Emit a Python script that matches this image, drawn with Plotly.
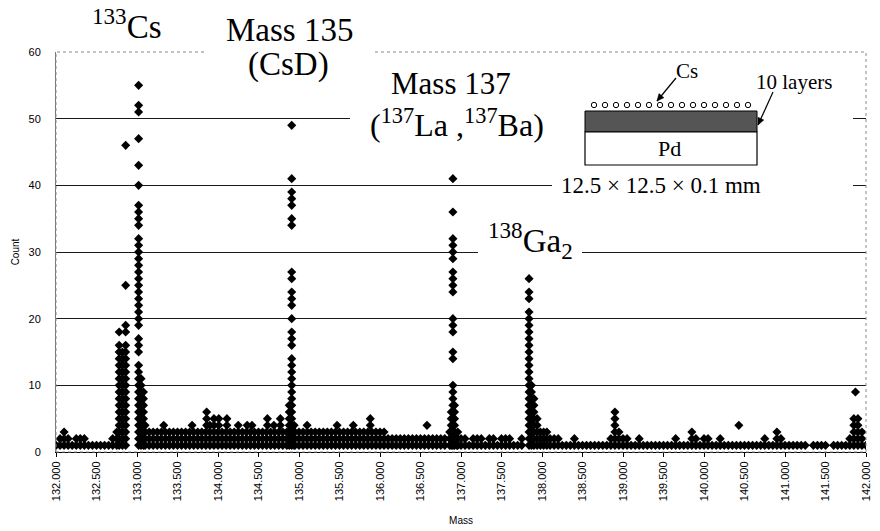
import math
import plotly.graph_objects as go

# ---------------- data ----------------
tick_vals = [132.0, 132.5, 133.0, 133.5, 134.0, 134.5, 135.0, 135.5, 136.0, 136.5,
             137.0, 137.5, 138.0, 138.5, 139.0, 139.5, 140.0, 140.5, 141.0, 141.5, 142.0]
tick_labels = ["132.000", "132.500", "133.000", "133.500", "134.000", "134.500", "135.000",
               "135.500", "136.000", "136.500", "137.000", "137.500", "138.000", "138.500",
               "139.000", "139.500", "140.000", "140.500", "141.000", "141.500", "142.000"]
count_ticks = [0, 10, 20, 30, 40, 50, 60]

# background band: highest count of the dense band in each 0.05-mass bin
band_start = 132.0
band_step = 0.05
band_132 = [1, 2, 3, 2, 1, 2, 2, 2, 1, 1, 1, 1, 1, 1, 2, 3, 0, 0, 0, 0]
band_133 = [0, 0, 4, 3, 3, 3, 3, 3, 3, 3, 3, 3, 3, 3, 3, 3, 3, 3, 3, 3]
band_134 = [3, 3, 3, 3, 3, 3, 3, 3, 3, 3, 3, 3, 3, 3, 3, 3, 3, 3, 0, 3]
band_135 = [3, 3, 3, 3, 3, 3, 3, 3, 3, 3, 3, 3, 3, 3, 3, 3, 3, 3, 3, 3]
band_136 = [3, 3, 2, 2, 2, 2, 2, 2, 2, 2, 2, 2, 2, 2, 2, 2, 2, 0, 0, 2]
band_137 = [2, 2, 1, 2, 2, 2, 1, 2, 2, 1, 2, 2, 2, 1, 1, 2, 0, 0, 0, 0]
band_138 = [0, 0, 0, 2, 2, 1, 1, 1, 2, 1, 1, 1, 1, 1, 1, 1, 1, 2, 6, 3]
band_139 = [2, 2, 1, 1, 2, 1, 1, 1, 1, 1, 1, 1, 1, 2, 1, 1, 1, 3, 2, 1]
band_140 = [2, 2, 1, 1, 2, 1, 1, 1, 1, 1, 1, 1, 1, 1, 1, 2, 1, 1, 3, 2]
band_141 = [1, 1, 1, 1, 1, 1, 0, 1, 1, 1, 1, 0, 1, 1, 1, 1, 2, 5, 5, 3]
band_142 = [1]

# isolated points above the band
extra_mass = [133.33, 133.68, 133.86, 133.86, 133.86, 133.90, 133.95, 133.95, 134.01, 134.01,
              134.11, 134.11, 134.25, 134.36, 134.42, 134.61, 134.61, 134.69, 134.77, 134.77,
              135.10, 135.47, 135.67, 135.88, 135.88, 136.58, 140.43, 141.87]
extra_count = [4, 4, 6, 5, 4, 4, 5, 4, 5, 4,
               5, 4, 4, 4, 4, 5, 4, 4, 5, 4,
               4, 4, 4, 5, 4, 4, 4, 9]

# 133Cs side peak
cs_side_mass = [132.78, 132.82, 132.86]
cs_side_counts = [
    [1, 2, 3, 4, 5, 6, 7, 8, 9, 10, 11, 12, 13, 14, 15, 16, 18],
    [1, 2, 3, 4, 5, 6, 7, 8, 9, 10, 11, 12, 13, 14, 15],
    [1, 2, 3, 4, 5, 6, 7, 8, 9, 10, 11, 12, 13, 14, 15, 16, 18, 19, 25, 46],
]
# 133Cs main peak
cs_main_mass = [133.02, 133.05, 133.08]
cs_main_counts = [
    [1, 2, 3, 4, 5, 6, 7, 8, 9, 10, 11, 12, 13, 15, 16, 17, 19, 20, 21, 22, 23, 24, 25, 26,
     27, 28, 29, 30, 31, 32, 34, 35, 36, 37, 40, 43, 47, 51, 52, 55],
    [1, 2, 3, 4, 5, 6, 7, 8, 9, 10, 11],
    [1, 2, 3, 4, 5, 6, 7, 8, 9],
]
# Mass 135 peak
m135_mass = [134.88, 134.91, 134.94]
m135_counts = [
    [1, 2, 3, 4, 5, 6, 7],
    [1, 2, 3, 4, 5, 6, 7, 8, 9, 10, 11, 12, 13, 14, 16, 17, 18, 20, 22, 23, 24, 26, 27,
     34, 35, 37, 38, 39, 41, 49],
    [1, 2, 3, 4],
]
# Mass 137 peak
m137_mass = [136.86, 136.88, 136.90, 136.92, 136.96]
m137_counts = [
    [1, 2, 3],
    [1, 2, 3, 4, 5, 6],
    [1, 2, 3, 4, 5, 6, 7, 8, 9, 10, 14, 15, 18, 19, 20, 24, 25, 26, 27, 29, 30, 31, 32, 36, 41],
    [1, 2, 3, 4, 5, 6, 7],
    [1, 2, 3],
]
# 138Ga2 peak
ga138_mass = [137.84, 137.87, 137.90, 137.94, 137.98, 138.02, 138.06, 138.10]
ga138_counts = [
    [1, 2, 3, 4, 5, 6, 7, 8, 9, 10, 11, 12, 13, 14, 15, 16, 17, 18, 19, 20, 21, 23, 24, 26],
    [1, 2, 3, 4, 5, 6, 7, 8, 9, 10],
    [1, 2, 3, 4, 5, 6, 7, 8],
    [1, 2, 3, 4, 5],
    [1, 2, 3],
    [1, 2, 3],
    [1, 2, 3],
    [1, 2],
]

# ---------------- build point lists ----------------
band_levels = (band_132 + band_133 + band_134 + band_135 + band_136 + band_137 +
               band_138 + band_139 + band_140 + band_141 + band_142)
xs, ys = [], []
for i, lvl in enumerate(band_levels):
    m = round(band_start + i * band_step, 2)
    for c in range(1, lvl + 1):
        xs.append(m)
        ys.append(c)
for m, c in zip(extra_mass, extra_count):
    xs.append(m)
    ys.append(c)
for masses, counts in [(cs_side_mass, cs_side_counts), (cs_main_mass, cs_main_counts),
                       (m135_mass, m135_counts), (m137_mass, m137_counts),
                       (ga138_mass, ga138_counts)]:
    for m, cl in zip(masses, counts):
        for c in cl:
            xs.append(m)
            ys.append(c)

fig = go.Figure()
fig.add_trace(go.Scatter(
    x=xs, y=ys, mode="markers",
    marker=dict(symbol="diamond", size=7, color="black", line=dict(width=0)),
    hoverinfo="x+y", showlegend=False,
))

# ---------------- layout ----------------
L, R, T, B = 56, 14, 52, 79
W, H = 880, 531
PW, PH = W - L - R, H - T - B


def px(x, y):
    return (x - L) / PW, (H - B - y) / PH


serif = "Liberation Serif, Times New Roman, serif"
sans = "Liberation Sans, Arial, sans-serif"

fig.update_layout(
    width=W, height=H,
    margin=dict(l=L, r=R, t=T, b=B, autoexpand=False),
    paper_bgcolor="white", plot_bgcolor="white",
    showlegend=False,
    xaxis=dict(
        range=[132, 142], tickvals=tick_vals, ticktext=tick_labels, tickangle=-90,
        tickfont=dict(family=sans, size=11, color="black"),
        ticks="outside", ticklen=4, tickcolor="black",
        showline=True, linecolor="black", linewidth=1,
        showgrid=False, zeroline=False, automargin=False,
        title=dict(text="Mass", font=dict(family=sans, size=10, color="black"), standoff=16),
    ),
    yaxis=dict(
        range=[0, 60], tickvals=count_ticks,
        tickfont=dict(family=sans, size=11, color="black"),
        ticks="", ticklabelstandoff=12,
        showline=True, linecolor="#777", linewidth=1,
        showgrid=True, gridcolor="#1a1a1a", gridwidth=1, zeroline=False, automargin=False,
        title=dict(text="Count", font=dict(family=sans, size=10, color="black"), standoff=7),
    ),
)

shapes = []


def rect(x0p, y0p, x1p, y1p, fill, lc=None, lw=0):
    a0, b0 = px(x0p, y1p)
    a1, b1 = px(x1p, y0p)
    line = dict(width=lw) if lc is None else dict(color=lc, width=lw)
    shapes.append(dict(type="rect", xref="paper", yref="paper", x0=a0, y0=b0, x1=a1, y1=b1,
                       fillcolor=fill, line=line, layer="above"))


# plot border (dotted grey)
shapes.append(dict(type="rect", xref="paper", yref="paper", x0=0, y0=0, x1=1, y1=1,
                   line=dict(color="#888", width=1, dash="dot"), layer="above"))
# white backgrounds behind the labels (they interrupt grid lines / border)
rect(206, 40, 372, 60, "white")      # Mass 135
rect(350, 108, 560, 130, "white")    # (137La, 137Ba)
rect(478, 243, 582, 261, "white")    # 138Ga2
rect(552, 57, 853, 200, "white")     # inset diagram
# inset: 10 layers (hatched) and Pd substrate
rect(585, 111, 757, 132, "#555555", "black", 1)
rect(585, 132, 757, 165, "white", "black", 1.2)
# Cs atoms (small circles)
for k in range(15):
    cx = 594 + 11 * k
    a0, b0 = px(cx - 2.7, 107.7)
    a1, b1 = px(cx + 2.7, 102.3)
    shapes.append(dict(type="circle", xref="paper", yref="paper", x0=a0, y0=b0, x1=a1, y1=b1,
                       fillcolor="white", line=dict(color="black", width=1), layer="above"))


def arrow(hx, hy, tx, ty):
    a0, b0 = px(tx, ty)
    a1, b1 = px(hx, hy)
    shapes.append(dict(type="line", xref="paper", yref="paper", x0=a0, y0=b0, x1=a1, y1=b1,
                       line=dict(color="black", width=1.2), layer="above"))
    ang = math.atan2(hy - ty, hx - tx)
    ln, wd = 7, 3.2
    bx, by = hx - ln * math.cos(ang), hy - ln * math.sin(ang)
    p1 = (bx + wd * math.sin(ang), by - wd * math.cos(ang))
    p2 = (bx - wd * math.sin(ang), by + wd * math.cos(ang))
    pts = [px(hx, hy), px(*p1), px(*p2)]
    path = "M {} {} L {} {} L {} {} Z".format(pts[0][0], pts[0][1], pts[1][0], pts[1][1],
                                              pts[2][0], pts[2][1])
    shapes.append(dict(type="path", xref="paper", yref="paper", path=path,
                       fillcolor="black", line=dict(color="black", width=0.5), layer="above"))


arrow(657, 101, 676, 78)
arrow(758, 125, 773, 92)
fig.update_layout(shapes=shapes)

ann = []


def label(text, x, y, size):
    xp, yp = px(x, y)
    ann.append(dict(text=text, x=xp, y=yp, xref="paper", yref="paper", showarrow=False,
                    xanchor="center", yanchor="middle", borderpad=0,
                    font=dict(family=serif, size=size, color="black")))


label("<sup>133</sup>Cs", 127, 24, 33)
label("Mass 135", 289, 30, 33)
label("(CsD)", 288, 64, 33)
label("Mass 137", 451, 83, 31)
label("(<sup>137</sup>La ,<sup>137</sup>Ba)", 457, 123, 32)
label("<sup>138</sup>Ga<sub>2</sub>", 530, 240, 33)
label("Cs", 687, 71, 21)
label("10 layers", 794, 82, 21)
label("Pd", 669, 148, 22)
label("12.5 × 12.5 × 0.1 mm", 661, 185, 23)

fig.update_layout(annotations=ann)
fig.write_html("out.html",
               config={"displayModeBar": False},
               post_script="document.body.style.margin='0px';"
                           "document.documentElement.style.overflow='hidden';")
